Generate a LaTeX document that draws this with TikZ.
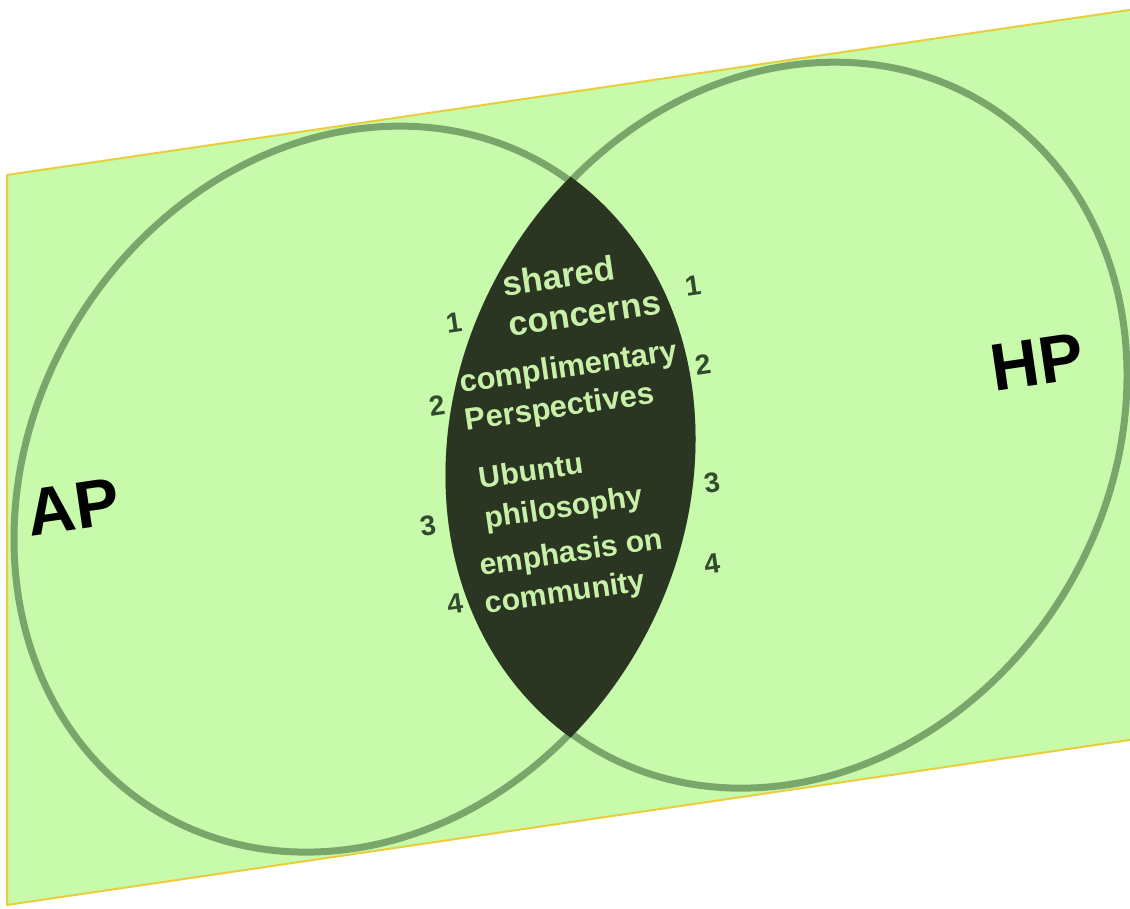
\documentclass[tikz,border=0pt]{standalone}
\usepackage{fontspec}
\setmainfont{Liberation Sans}
\usepackage{xcolor}
\usepackage{tikz}

\definecolor{paleleaf}{RGB}{200,250,172}
\definecolor{ringgreen}{RGB}{122,166,108}
\definecolor{lensdark}{RGB}{42,53,34}
\definecolor{lenstext}{RGB}{200,240,168}
\definecolor{numgreen}{RGB}{50,74,46}
\definecolor{edgeyellow}{RGB}{232,206,60}

\begin{document}
\begin{tikzpicture}[
    itemtext/.style={rotate=8.4, anchor=west, align=left, text=lenstext, inner sep=0pt,
                     font=\fontsize{8.8}{11}\selectfont\bfseries},
    numtext/.style={rotate=8.4, text=numgreen, inner sep=0pt, font=\fontsize{8}{9}\selectfont\bfseries},
    bigtext/.style={rotate=8.4, inner sep=0pt, font=\fontsize{19}{22}\selectfont\bfseries}]
    \useasboundingbox (0,0) rectangle (11.30,9.08);
    \clip (0,0) rectangle (11.30,9.08);

    % Sheared sheet with the two circles
    \begin{scope}[cm={1,0.147,0,1,(0,0)}]
        \fill[paleleaf] (0.07,0.02) rectangle (11.6,7.32);
        \draw[edgeyellow, line width=0.02cm] (11.6,7.32) -- (0.07,7.32) -- (0.07,0.02) -- (11.6,0.02);

        % AP circle
        \draw[ringgreen, line width=0.07cm] (3.53,3.67) ellipse [x radius=3.39, y radius=3.595];
        % HP circle
        \draw[ringgreen, line width=0.07cm] (7.88,3.67) ellipse [x radius=3.39, y radius=3.595];

        % Overlap
        \begin{scope}
            \clip (3.53,3.67) ellipse [x radius=3.425, y radius=3.63];
            \fill[lensdark] (7.88,3.67) ellipse [x radius=3.425, y radius=3.63];
        \end{scope}
    \end{scope}

    % Shared items
    \node[itemtext, font=\fontsize{9.8}{11.5}\selectfont\bfseries] (shared) at (5.05,6.04) {shared\\concerns};
    \node[itemtext] (compl) at (4.62,5.04) {complimentary\\Perspectives};
    \node[itemtext, font=\fontsize{8.5}{11.5}\selectfont\bfseries] (ubuntu) at (4.82,4.07) {Ubuntu\\philosophy};
    \node[itemtext, font=\fontsize{8.6}{11}\selectfont\bfseries] (emph) at (4.82,3.21) {emphasis on\\community};

    % Numbers, AP side
    \node[numtext] (apone) at (4.54,5.85) {1};
    \node[numtext] (aptwo) at (4.37,5.02) {2};
    \node[numtext] (apthree) at (4.28,3.82) {3};
    \node[numtext] (apfour) at (4.55,3.04) {4};

    % Numbers, HP side
    \node[numtext] (hpone) at (6.93,6.22) {1};
    \node[numtext] (hptwo) at (7.03,5.43) {2};
    \node[numtext] (hpthree) at (7.12,4.25) {3};
    \node[numtext] (hpfour) at (7.12,3.44) {4};

    % Circle names
    \node[bigtext] (ap) at (0.73,4.01) {AP};
    \node[bigtext] (hp) at (10.37,5.46) {HP};
\end{tikzpicture}
\end{document}
